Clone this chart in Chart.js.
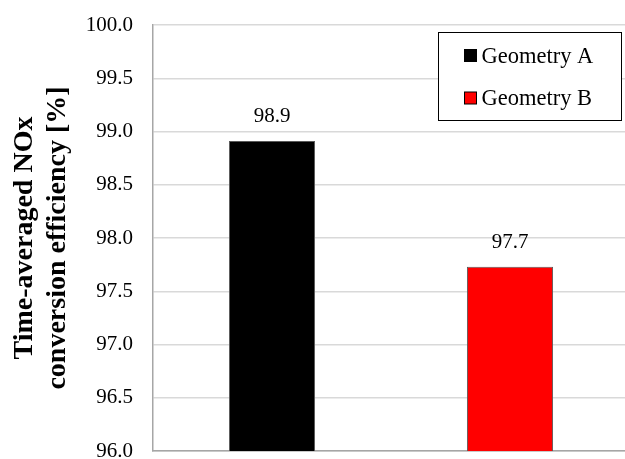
<!DOCTYPE html>
<html>
<head>
<meta charset="utf-8">
<script src="https://cdn.jsdelivr.net/npm/chart.js@4"></script>
<style>
html,body{margin:0;padding:0;background:#fff;overflow:hidden;}
#wrap{width:629px;height:459px;position:relative;}
</style>
</head>
<body>
<div id="wrap"><canvas id="c"></canvas></div>
<script>
const categories = ['Geometry A', 'Geometry B'];
const efficiency = [98.91, 97.73];
const barColors = ['#000000', '#ff0000'];
const yTitle = ['Time-averaged NOx', 'conversion efficiency [%]'];
const yMin = 96.0, yMax = 100.0, yStep = 0.5;

const serif = "'Liberation Serif', 'Times New Roman', serif";

const valueLabels = {
  id: 'valueLabels',
  afterDatasetsDraw(chart) {
    const ctx = chart.ctx;
    const meta = chart.getDatasetMeta(0);
    ctx.save();
    ctx.font = '21px ' + serif;
    ctx.fillStyle = '#000';
    ctx.textAlign = 'center';
    ctx.textBaseline = 'alphabetic';
    meta.data.forEach((bar, i) => {
      ctx.fillText(efficiency[i].toFixed(1), bar.x, bar.y - 19);
    });
    ctx.restore();
  }
};

const boxLegend = {
  id: 'boxLegend',
  afterDraw(chart) {
    const ctx = chart.ctx;
    const a = chart.chartArea;
    const x0 = a.left + 285.5, y0 = a.top + 7.5, w = 183, h = 88;
    ctx.save();
    ctx.fillStyle = '#fff';
    ctx.fillRect(x0, y0, w, h);
    ctx.strokeStyle = '#000';
    ctx.lineWidth = 1;
    ctx.strokeRect(x0, y0, w, h);
    ctx.font = '22.5px ' + serif;
    ctx.textBaseline = 'alphabetic';
    ctx.textAlign = 'left';
    categories.forEach((name, i) => {
      const base = y0 + 30 + i * 42.5;
      ctx.fillStyle = barColors[i];
      ctx.fillRect(x0 + 26, base - 13, 12, 12);
      ctx.strokeStyle = '#000';
      ctx.strokeRect(x0 + 26, base - 13, 12, 12);
      ctx.fillStyle = '#000';
      ctx.fillText(name, x0 + 43, base);
    });
    ctx.restore();
  }
};

new Chart(document.getElementById('c'), {
  type: 'bar',
  data: {
    labels: categories,
    datasets: [{
      data: efficiency,
      backgroundColor: barColors,
      borderColor: '#595959',
      borderWidth: 1,
      barPercentage: 0.362,
      categoryPercentage: 1.0
    }]
  },
  options: {
    responsive: true,
    maintainAspectRatio: false,
    animation: false,
    layout: { padding: { left: 0, right: 0, top: 25, bottom: 8 } },
    plugins: { legend: { display: false }, tooltip: { enabled: false } },
    scales: {
      x: {
        afterFit(scale) { scale.height = 0; },
        grid: { display: false },
        border: { display: true, color: '#a6a6a6', width: 1.5 },
        ticks: { display: false }
      },
      y: {
        min: yMin, max: yMax,
        afterFit(scale) { scale.width = 153; },
        ticks: {
          stepSize: yStep,
          padding: 0,
          color: '#000',
          font: { family: serif, size: 21, lineHeight: 0.7 },
          callback: v => Number(v).toFixed(1)
        },
        grid: { color: '#d9d9d9', lineWidth: 1.5, drawTicks: true, tickLength: 20, tickColor: 'rgba(0,0,0,0)' },
        border: { display: true, color: '#a6a6a6', width: 1.5 },
        title: {
          display: true,
          text: yTitle,
          color: '#000',
          font: { family: serif, size: 28, weight: 'bold', lineHeight: 1.18 },
          padding: { top: 8, bottom: 0 }
        }
      }
    }
  },
  plugins: [valueLabels, boxLegend]
});
</script>
</body>
</html>
